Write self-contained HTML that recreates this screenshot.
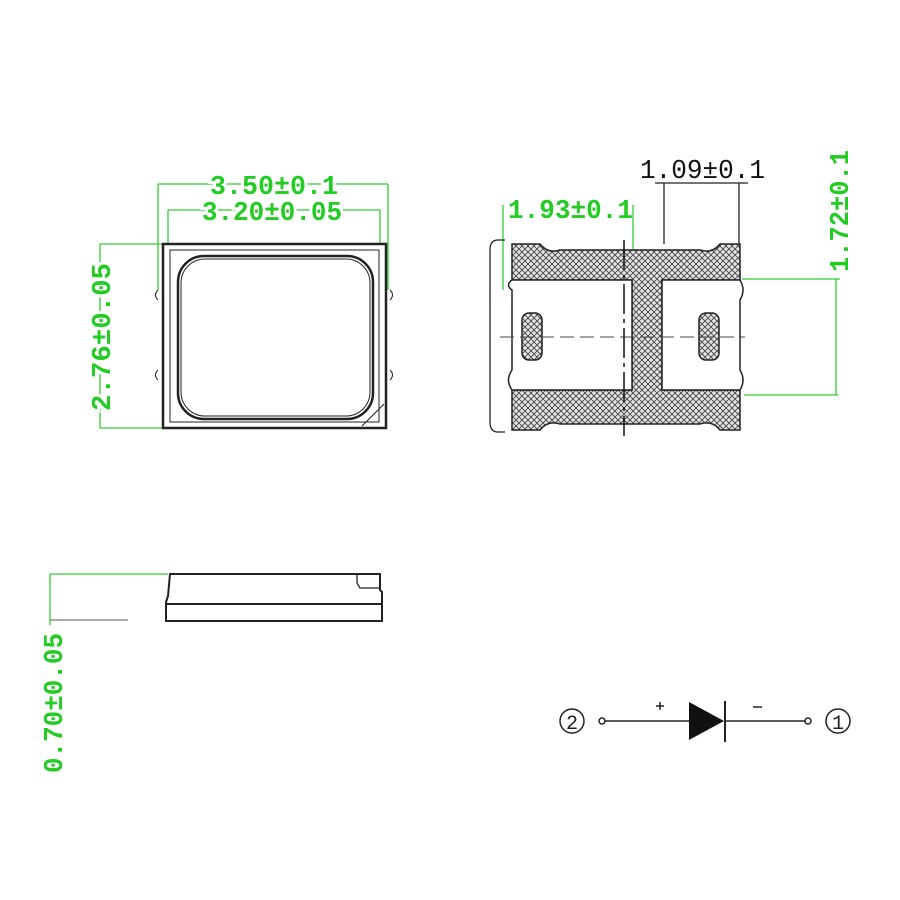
<!DOCTYPE html>
<html><head><meta charset="utf-8"><style>
html,body{margin:0;padding:0;background:#fff;width:900px;height:900px;overflow:hidden}
svg{display:block}
text{font-family:"Liberation Mono","DejaVu Sans Mono",monospace;}
</style></head><body>
<svg width="900" height="900" viewBox="0 0 900 900" xmlns="http://www.w3.org/2000/svg">
<defs>
<pattern id="h" width="6" height="6" patternUnits="userSpaceOnUse">
<rect width="6" height="6" fill="#e4e4e4"/>
<path d="M0,0L6,6M6,0L0,6" stroke="#444" stroke-width="0.9"/>
</pattern>
</defs>
<g fill="none" stroke="#3c3" stroke-width="1.3">
<line x1="158" y1="184" x2="388" y2="184"/><line x1="158" y1="184" x2="158" y2="290"/><line x1="388" y1="184" x2="388" y2="290"/>
<line x1="168" y1="210" x2="380" y2="210"/><line x1="168" y1="210" x2="168" y2="244"/><line x1="380" y1="210" x2="380" y2="244"/>
<line x1="100" y1="244" x2="162" y2="244"/><line x1="100" y1="428" x2="162" y2="428"/><line x1="100" y1="244" x2="100" y2="428"/>
<line x1="503" y1="205" x2="503" y2="290"/><line x1="633" y1="205" x2="633" y2="285"/>
<line x1="742" y1="279" x2="840" y2="279"/><line x1="744" y1="395" x2="838" y2="395"/><line x1="836" y1="279" x2="836" y2="395"/>
<line x1="50" y1="574" x2="168" y2="574"/><line x1="50" y1="574" x2="50" y2="625"/><line x1="50" y1="620" x2="128" y2="620" stroke="#777"/>
</g>
<g fill="#2c2" font-size="27" font-weight="bold">
<text x="210" y="194" textLength="128" lengthAdjust="spacingAndGlyphs" fill="#fff" stroke="#fff" stroke-width="6">3.50±0.1</text>
<text x="210" y="194" textLength="128" lengthAdjust="spacingAndGlyphs">3.50±0.1</text>
<text x="202" y="220" textLength="140" lengthAdjust="spacingAndGlyphs" fill="#fff" stroke="#fff" stroke-width="6">3.20±0.05</text>
<text x="202" y="220" textLength="140" lengthAdjust="spacingAndGlyphs">3.20±0.05</text>
<text transform="translate(110,411) rotate(-90)" textLength="148" lengthAdjust="spacingAndGlyphs" fill="#fff" stroke="#fff" stroke-width="6">2.76±0.05</text>
<text transform="translate(110,411) rotate(-90)" textLength="148" lengthAdjust="spacingAndGlyphs">2.76±0.05</text>
<text x="508" y="218" textLength="125" lengthAdjust="spacingAndGlyphs">1.93±0.1</text>
<text transform="translate(848,272) rotate(-90)" textLength="122" lengthAdjust="spacingAndGlyphs">1.72±0.1</text>
<text transform="translate(62,773) rotate(-90)" textLength="140" lengthAdjust="spacingAndGlyphs">0.70±0.05</text>
</g>
<text x="640" y="178" textLength="125" lengthAdjust="spacingAndGlyphs" font-size="27" fill="#111">1.09±0.1</text>
<g fill="none" stroke="#222" stroke-width="1.3">
<line x1="655" y1="183" x2="748" y2="183"/><line x1="664" y1="183" x2="664" y2="244"/><line x1="739" y1="183" x2="739" y2="280"/>
</g>
<g fill="none" stroke="#222">
<rect x="163" y="244" width="223" height="184" stroke-width="2.5"/>
<rect x="170" y="250" width="209" height="172" stroke-width="1"/>
<rect x="178" y="256" width="195" height="163" rx="26" stroke-width="2.5"/>
<rect x="181" y="259" width="189" height="157" rx="24" stroke-width="1"/>
<path d="M158,290 q-5,5 0,10 M158,370 q-5,5 0,10 M390,290 q5,5 0,10 M390,370 q5,5 0,10" stroke-width="1"/>
<line x1="362" y1="426" x2="384" y2="404" stroke-width="1"/>
</g>
<path d="M512,244 H540 Q548,254 560,250 H700 Q712,254 720,244 H740 V280 H662 V390 H740 V430 H720 Q712,420 700,424 H560 Q548,420 540,430 H512 V390 H632 V280 H512 Z" fill="url(#h)" stroke="#222" stroke-width="1.5"/>
<path d="M512,280 H632 V390 H512 Q505,380 512,370 V290 Q505,285 512,280 Z M662,280 H740 Q746,290 740,300 V370 Q746,380 740,390 H662 Z" fill="#fff" stroke="#222" stroke-width="1.5"/>
<rect x="522" y="313" width="20" height="47" rx="7" fill="url(#h)" stroke="#222" stroke-width="1.5"/>
<rect x="699" y="313" width="20" height="47" rx="7" fill="url(#h)" stroke="#222" stroke-width="1.5"/>
<line x1="500" y1="337" x2="745" y2="337" stroke="#444" stroke-width="1" stroke-dasharray="14,6"/>
<line x1="624" y1="240" x2="624" y2="436" stroke="#111" stroke-width="1.5" stroke-dasharray="30,5,4,5"/>
<path d="M505,240 H498 Q490,240 490,250 V422 Q490,432 498,432 H505" fill="none" stroke="#222" stroke-width="1.3"/>
<g fill="none" stroke="#222" stroke-width="2">
<path d="M170,574 H380 V590 L382,592 V621 H166 V602 L168,596 Z"/>
<line x1="167" y1="604" x2="382" y2="604"/>
<path d="M357,574 V583 L360,588 H380" stroke-width="1.3"/>
</g>
<g stroke="#222" stroke-width="1.5" fill="none">
<circle cx="572" cy="721" r="12"/>
<circle cx="602" cy="721" r="3"/>
<line x1="605" y1="721" x2="690" y2="721"/>
<line x1="725" y1="721" x2="805" y2="721"/>
<circle cx="808" cy="721" r="3"/>
<circle cx="838" cy="721" r="12"/>
<line x1="725" y1="701" x2="725" y2="742" stroke-width="2"/>
<line x1="656" y1="706" x2="664" y2="706"/><line x1="660" y1="702" x2="660" y2="710"/>
<line x1="753" y1="707" x2="762" y2="707"/>
</g>
<polygon points="689,702 689,740 724,721" fill="#111"/>
<text x="572" y="729" text-anchor="middle" font-size="20" font-family="Liberation Sans,sans-serif" fill="#222">2</text>
<text x="838" y="729" text-anchor="middle" font-size="20" font-family="Liberation Sans,sans-serif" fill="#222">1</text>
</svg>
</body></html>
